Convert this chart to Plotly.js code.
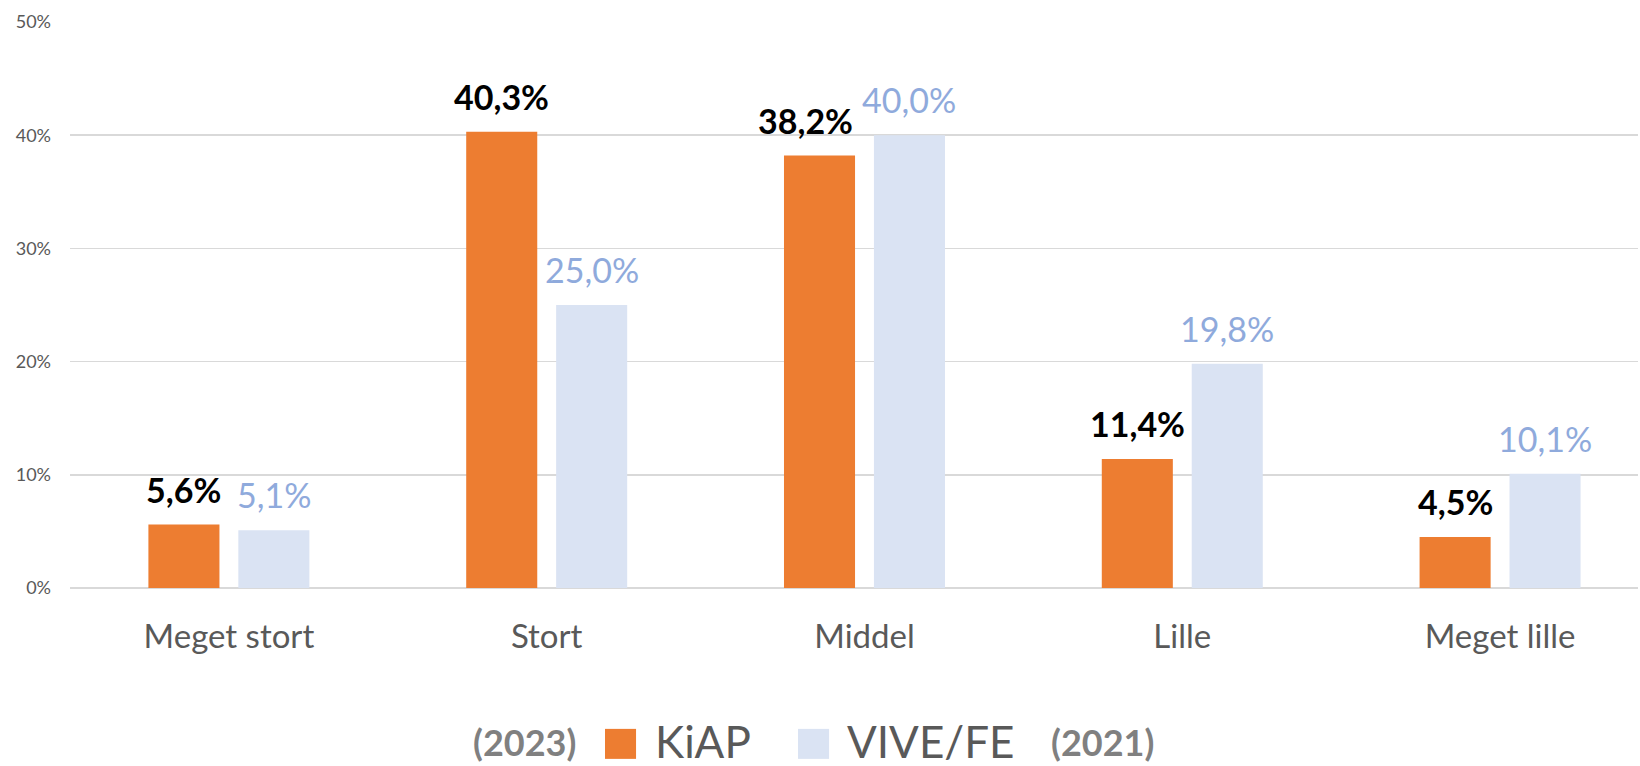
<!DOCTYPE html>
<html>
<head>
<meta charset="utf-8">
<script src="https://cdn.plot.ly/plotly-3.0.1.min.js"></script>
<style>
  html, body { margin: 0; padding: 0; background: #ffffff; }
  #chart { width: 1640px; height: 766px; }
</style>
</head>
<body>
<div id="chart"></div>
<script>
// ---- data ----
var categories = ["Meget stort", "Stort", "Middel", "Lille", "Meget lille"];
var kiapValues = [5.6, 40.3, 38.2, 11.4, 4.5];
var viveValues = [5.1, 25.0, 40.0, 19.8, 10.1];
var seriesNames = ["KiAP", "VIVE/FE"];
var seriesYears = ["(2023)", "(2021)"];
var yTickValues = [0, 10, 20, 30, 40, 50];
var yTickLabels = ["0%", "10%", "20%", "30%", "40%", "50%"];

// ---- styles ----
var FONT = "Lato, 'Open Sans', sans-serif";
var ORANGE = "#ED7D31";
var LIGHT = "#DAE3F3";
var LIGHT_TEXT = "#8FAADC";
var AXIS_TEXT = "#595959";
var SLOT = 45;        // px from category centre to bar centre
var HALF_BAR = 35.5;  // half bar width in px

function fmt(v) { return v.toFixed(1).replace(".", ",") + "%"; }

var traces = [
  { type: "bar", name: seriesNames[0], x: categories, y: kiapValues,
    marker: { color: ORANGE }, hoverinfo: "skip" },
  { type: "bar", name: seriesNames[1], x: categories, y: viveValues,
    marker: { color: LIGHT }, hoverinfo: "skip" }
];

var annotations = [];
categories.forEach(function (c, i) {
  // when the neighbouring label sits at almost the same height, right-align to the bar edge (as Excel did)
  var collide = viveValues[i] > kiapValues[i] && (viveValues[i] - kiapValues[i]) < 4;
  annotations.push({ x: c, y: kiapValues[i], xref: "x", yref: "y", text: "<b>" + fmt(kiapValues[i]) + "</b>",
    showarrow: false, xanchor: collide ? "right" : "center",
    xshift: collide ? -SLOT + HALF_BAR : -SLOT, yshift: 13, yanchor: "bottom",
    font: { family: FONT, size: 34, color: "#000000" } });
  annotations.push({ x: c, y: viveValues[i], xref: "x", yref: "y", text: fmt(viveValues[i]),
    showarrow: false, xshift: SLOT, yshift: 13, yanchor: "bottom",
    font: { family: FONT, size: 34, color: LIGHT_TEXT } });
});

// custom legend (Excel-style large swatches)
var legY = -0.3107;
annotations.push({ xref: "paper", yref: "paper", x: 0.324, y: legY, xanchor: "right", yanchor: "bottom", yshift: -2,
  text: "<b>" + seriesYears[0] + "</b>", showarrow: false, font: { family: FONT, size: 36, color: "#808080" } });
annotations.push({ xref: "paper", yref: "paper", x: 0.3718, y: legY, xanchor: "left", yanchor: "bottom", yshift: -5,
  text: seriesNames[0], showarrow: false, font: { family: FONT, size: 44, color: AXIS_TEXT } });
annotations.push({ xref: "paper", yref: "paper", x: 0.4943, y: legY, xanchor: "left", yanchor: "bottom", yshift: -5,
  text: seriesNames[1], showarrow: false, font: { family: FONT, size: 44, color: AXIS_TEXT } });
annotations.push({ xref: "paper", yref: "paper", x: 0.6244, y: legY, xanchor: "left", yanchor: "bottom", yshift: -2,
  text: "<b>" + seriesYears[1] + "</b>", showarrow: false, font: { family: FONT, size: 36, color: "#808080" } });

var shapes = [
  { type: "rect", xref: "paper", yref: "paper", x0: 0.3412, x1: 0.3610, y0: -0.3019, y1: -0.2489,
    fillcolor: ORANGE, line: { width: 0 } },
  { type: "rect", xref: "paper", yref: "paper", x0: 0.4643, x1: 0.4841, y0: -0.3019, y1: -0.2489,
    fillcolor: LIGHT, line: { width: 0 } }
];

var layout = {
  width: 1640, height: 766,
  margin: { l: 70, r: 2, t: 21.5, b: 178 },
  paper_bgcolor: "#ffffff", plot_bgcolor: "#ffffff",
  barmode: "group", bargap: 0.434, bargroupgap: 0.21,
  showlegend: false,
  font: { family: FONT, color: AXIS_TEXT },
  xaxis: {
    type: "category", range: [-0.5, 4.434],
    showgrid: false, zeroline: false, showline: false, ticks: "",
    ticklabelstandoff: 26,
    tickfont: { family: FONT, size: 33, color: AXIS_TEXT }
  },
  yaxis: {
    range: [0, 50], tickvals: yTickValues, ticktext: yTickLabels,
    showgrid: true, gridcolor: "#D9D9D9", gridwidth: 1.5,
    zeroline: true, zerolinecolor: "#D9D9D9", zerolinewidth: 1.5,
    showline: false, ticks: "", ticklabelstandoff: 18,
    tickfont: { family: FONT, size: 18, color: AXIS_TEXT }
  },
  annotations: annotations,
  shapes: shapes
};

Plotly.newPlot("chart", traces, layout, { staticPlot: true, displayModeBar: false });
</script>
</body>
</html>
